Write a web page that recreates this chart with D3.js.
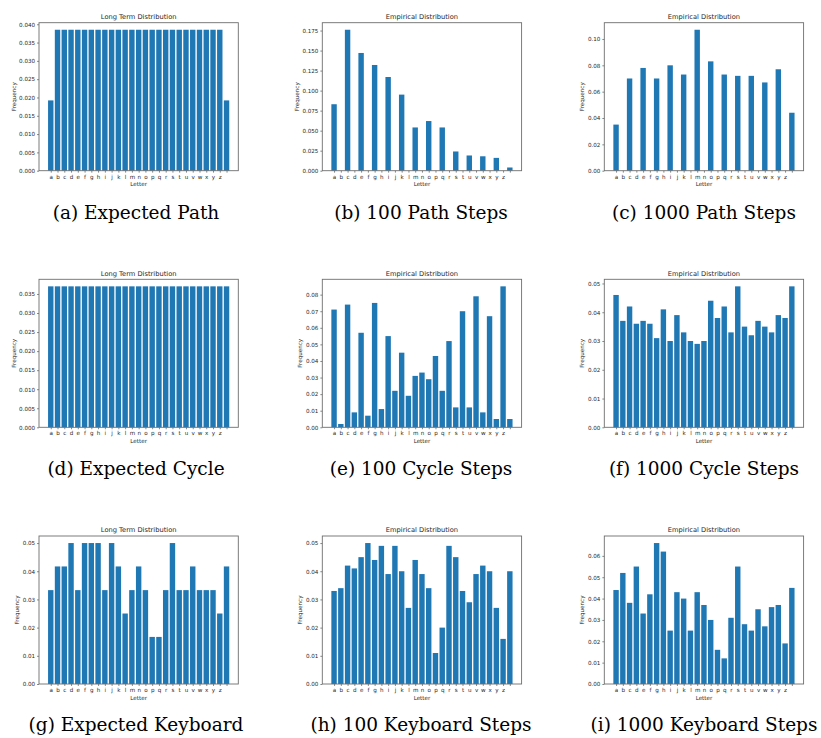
<!DOCTYPE html>
<html>
<head>
<meta charset="utf-8">
<script src="https://cdn.jsdelivr.net/npm/d3@7/dist/d3.min.js"></script>
<style>
  html, body { margin: 0; padding: 0; background: #fff; }
  svg { display: block; }
  .tick text { font-family: "DejaVu Sans", sans-serif; fill: #262626; }
</style>
</head>
<body>
<svg id="fig" width="821" height="738"></svg>
<script>
// Categories: the 26 letters plus the space character (drawn with an empty label)
const letters = ["a","b","c","d","e","f","g","h","i","j","k","l","m","n","o","p","q","r","s","t","u","v","w","x","y","z"," "];

// Path graph
const pathExpected = [0.0192,0.0385,0.0385,0.0385,0.0385,0.0385,0.0385,0.0385,0.0385,0.0385,0.0385,0.0385,0.0385,0.0385,0.0385,0.0385,0.0385,0.0385,0.0385,0.0385,0.0385,0.0385,0.0385,0.0385,0.0385,0.0385,0.0192];
const pathSteps100 = [0.083,0,0.176,0,0.147,0,0.132,0,0.117,0,0.095,0,0.054,0,0.062,0,0.054,0,0.024,0,0.019,0,0.018,0,0.016,0,0.004];
const pathSteps1000 = [0.035,0,0.070,0,0.078,0,0.070,0,0.080,0,0.073,0,0.107,0,0.083,0,0.073,0,0.072,0,0.072,0,0.067,0,0.077,0,0.044];

// Cycle graph
const cycleExpected = [0.037,0.037,0.037,0.037,0.037,0.037,0.037,0.037,0.037,0.037,0.037,0.037,0.037,0.037,0.037,0.037,0.037,0.037,0.037,0.037,0.037,0.037,0.037,0.037,0.037,0.037,0.037];
const cycleSteps100 = [0.071,0.002,0.074,0.009,0.057,0.007,0.075,0.011,0.055,0.022,0.045,0.019,0.031,0.033,0.029,0.043,0.022,0.052,0.012,0.070,0.012,0.079,0.009,0.067,0.005,0.085,0.005];
const cycleSteps1000 = [0.046,0.037,0.042,0.036,0.037,0.036,0.031,0.041,0.030,0.039,0.033,0.030,0.029,0.030,0.044,0.038,0.042,0.033,0.049,0.035,0.032,0.037,0.035,0.033,0.039,0.038,0.049];

// Keyboard graph
const keyboardExpected = [0.0333,0.0417,0.0417,0.05,0.0333,0.05,0.05,0.05,0.0333,0.05,0.0417,0.025,0.0333,0.0417,0.0333,0.0167,0.0167,0.0333,0.05,0.0333,0.0333,0.0417,0.0333,0.0333,0.0333,0.025,0.0417];
const keyboardSteps100 = [0.033,0.034,0.042,0.041,0.045,0.050,0.044,0.049,0.039,0.049,0.040,0.027,0.044,0.039,0.034,0.011,0.020,0.049,0.045,0.033,0.029,0.039,0.042,0.040,0.027,0.016,0.040];
const keyboardSteps1000 = [0.044,0.052,0.038,0.055,0.033,0.042,0.066,0.062,0.025,0.043,0.040,0.025,0.043,0.037,0.030,0.016,0.012,0.031,0.055,0.028,0.025,0.035,0.027,0.036,0.037,0.019,0.045];

// Y tick values per panel
const ticksA = [0,0.005,0.010,0.015,0.020,0.025,0.030,0.035,0.040];
const ticksB = [0,0.025,0.050,0.075,0.100,0.125,0.150,0.175];
const ticksC = [0,0.02,0.04,0.06,0.08,0.10];
const ticksD = [0,0.005,0.010,0.015,0.020,0.025,0.030,0.035];
const ticksE = [0,0.01,0.02,0.03,0.04,0.05,0.06,0.07,0.08];
const ticksF = [0,0.01,0.02,0.03,0.04,0.05];
const ticksG = [0,0.01,0.02,0.03,0.04,0.05];
const ticksH = [0,0.01,0.02,0.03,0.04,0.05];
const ticksI = [0,0.01,0.02,0.03,0.04,0.05,0.06];

const titles = ["Long Term Distribution","Empirical Distribution","Empirical Distribution"];
const captions = [
  "(a) Expected Path","(b) 100 Path Steps","(c) 1000 Path Steps",
  "(d) Expected Cycle","(e) 100 Cycle Steps","(f) 1000 Cycle Steps",
  "(g) Expected Keyboard","(h) 100 Keyboard Steps","(i) 1000 Keyboard Steps"
];

const seriesList = [pathExpected,pathSteps100,pathSteps1000,cycleExpected,cycleSteps100,cycleSteps1000,keyboardExpected,keyboardSteps100,keyboardSteps1000];
const tickList = [ticksA,ticksB,ticksC,ticksD,ticksE,ticksF,ticksG,ticksH,ticksI];
const formats = [".3f",".3f",".2f",".3f",".2f",".2f",".2f",".2f",".2f"];

// Layout
const colLeft = [39, 322.3, 604.3];
const rowTop = [22.7, 279.3, 536];
const axW = 199.3, axH = 148;
const captionX = [136, 421, 704];
const captionY = [219, 475, 731];
const barColor = "#1f77b4";
const tickLen = 1.94, tickPad = 1.94;

const svg = d3.select("#fig");

seriesList.forEach((values, k) => {
  const r = Math.floor(k / 3), c = k % 3;
  const g = svg.append("g").attr("transform", `translate(${colLeft[c]},${rowTop[r]})`);

  const x = d3.scaleLinear().domain([-1.74, 27.74]).range([0, axW]);
  const y = d3.scaleLinear().domain([0, d3.max(values) * 1.05]).range([axH, 0]);

  // bars
  g.append("g").selectAll("rect")
    .data(values)
    .join("rect")
    .attr("x", (d, i) => x(i - 0.4))
    .attr("width", (d, i) => x(i + 0.4) - x(i - 0.4))
    .attr("y", d => y(d))
    .attr("height", d => y(0) - y(d))
    .attr("fill", barColor);

  // y axis
  const yAxis = g.append("g")
    .call(d3.axisLeft(y).tickValues(tickList[k]).tickFormat(d3.format(formats[k]))
      .tickSize(tickLen).tickPadding(tickPad));
  yAxis.select(".domain").remove();
  yAxis.selectAll(".tick line").attr("stroke", "#333").attr("stroke-width", 0.6);
  yAxis.selectAll(".tick text").attr("font-size", 5.6);

  // x axis
  const xAxis = g.append("g")
    .attr("transform", `translate(0,${axH})`)
    .call(d3.axisBottom(x).tickValues(d3.range(letters.length)).tickFormat(i => letters[i])
      .tickSize(tickLen).tickPadding(tickPad));
  xAxis.select(".domain").remove();
  xAxis.selectAll(".tick line").attr("stroke", "#333").attr("stroke-width", 0.6);
  xAxis.selectAll(".tick text").attr("font-size", 5.6);

  // frame
  g.append("rect")
    .attr("x", 0).attr("y", 0).attr("width", axW).attr("height", axH)
    .attr("fill", "none").attr("stroke", "#6e6e6e").attr("stroke-width", 0.9);

  // title
  g.append("text")
    .attr("x", axW / 2).attr("y", -3.6)
    .attr("text-anchor", "middle")
    .attr("font-family", "DejaVu Sans, sans-serif")
    .attr("font-size", 6.7)
    .attr("fill", "#262626")
    .text(titles[c]);

  // x label
  g.append("text")
    .attr("x", axW / 2).attr("y", axH + 15.6)
    .attr("text-anchor", "middle")
    .attr("font-family", "DejaVu Sans, sans-serif")
    .attr("font-size", 5.6)
    .attr("fill", "#262626")
    .text("Letter");

  // y label, placed just left of the tick labels
  const bb = yAxis.node().getBBox();
  const lx = bb.x - 2.2 - 1.3;
  g.append("text")
    .attr("transform", `translate(${lx},${axH / 2}) rotate(-90)`)
    .attr("text-anchor", "middle")
    .attr("font-family", "DejaVu Sans, sans-serif")
    .attr("font-size", 5.6)
    .attr("fill", "#262626")
    .text("Frequency");

  // caption
  svg.append("text")
    .attr("x", captionX[c]).attr("y", captionY[r])
    .attr("text-anchor", "middle")
    .attr("font-family", "DejaVu Serif, serif")
    .attr("font-size", 18.5)
    .attr("fill", "#000")
    .text(captions[k]);
});
</script>
</body>
</html>
